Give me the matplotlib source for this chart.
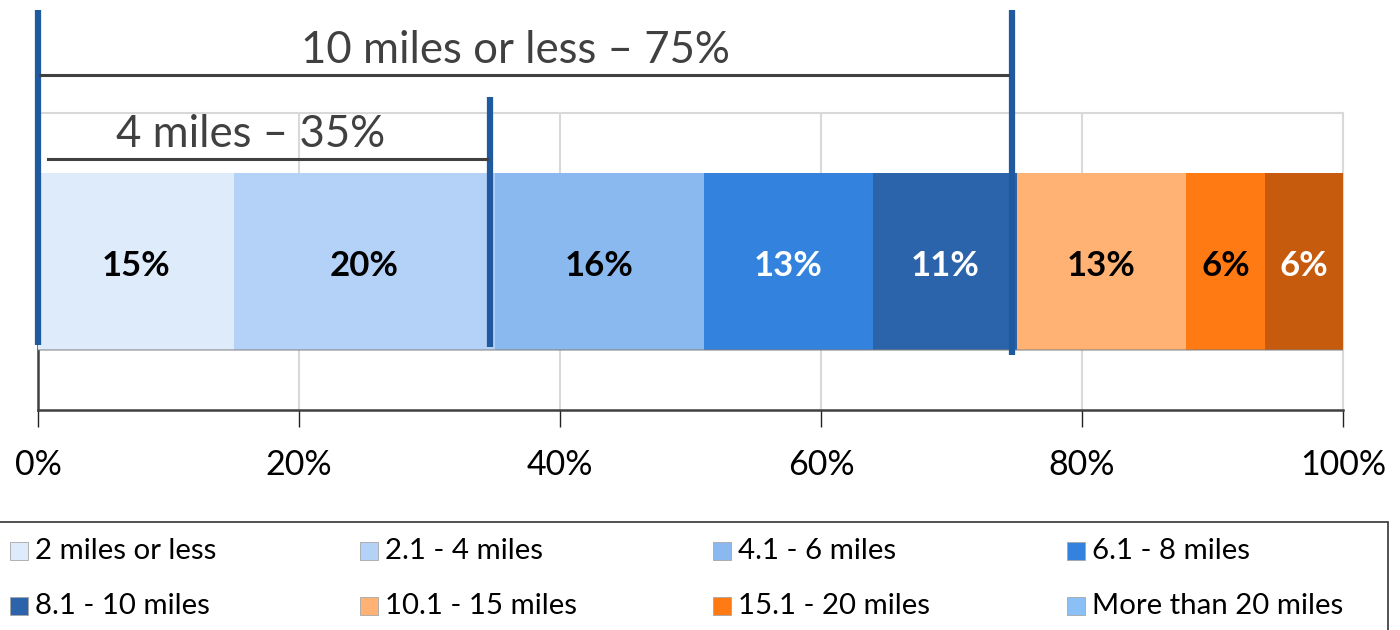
import matplotlib
matplotlib.use("Agg")
import matplotlib.pyplot as plt
from matplotlib.patches import Rectangle
import matplotlib.transforms as mtransforms

plt.rcParams['font.family'] = ['Lato', 'DejaVu Sans']

categories = ["2 miles or less", "2.1 - 4 miles", "4.1 - 6 miles", "6.1 - 8 miles",
              "8.1 - 10 miles", "10.1 - 15 miles", "15.1 - 20 miles", "More than 20 miles"]
shares = [15, 20, 16, 13, 11, 13, 6, 6]
bar_colors = ["#DDEBFB", "#B4D2F7", "#8AB9EF", "#3382DE",
              "#2B64AB", "#FFB273", "#FF7A12", "#C65B0E"]
legend_colors = ["#DDEBFB", "#B4D2F7", "#8AB9EF", "#3382DE",
                 "#2B64AB", "#FFB273", "#FF7A12", "#8AC0F6"]
label_colors = ["black", "black", "black", "white", "white", "black", "black", "white"]
tick_values = [0, 20, 40, 60, 80, 100]
tick_labels = ["0%", "20%", "40%", "60%", "80%", "100%"]

brackets = [("10 miles or less – 75%", 75), ("4 miles – 35%", 35)]

W, H = 1400, 630
fig = plt.figure(figsize=(W / 100, H / 100), dpi=100)
ax = fig.add_axes([38 / W, (H - 410) / H, (1343 - 38) / W, (410 - 113) / H])
ax.set_xlim(0, 100)
ax.set_ylim(0, 1)

# stacked bar
left = 0
for val, col, tc in zip(shares, bar_colors, label_colors):
    ax.barh(0.5, val, left=left, height=0.596, color=col, edgecolor='none', zorder=3)
    ax.text(left + val / 2, 0.485, f"{val}%", ha='center', va='center',
            fontsize=25, fontweight='bold', color=tc, zorder=5)
    left += val
ax.plot([0, 100], [0.5 - 0.298, 0.5 - 0.298], color="#7f7f7f", lw=1.2, alpha=0.6, zorder=4)

# grid and frame
ax.set_xticks(tick_values)
ax.set_xticklabels(tick_labels)
ax.set_yticks([])
ax.xaxis.grid(True, color="#D9D9D9", lw=1.5, zorder=0)
for s in ['top', 'right']:
    ax.spines[s].set_color("#D9D9D9")
    ax.spines[s].set_linewidth(1.5)
for s in ['left', 'bottom']:
    ax.spines[s].set_color("#404040")
    ax.spines[s].set_linewidth(1.8)
ax.tick_params(axis='x', direction='out', length=12, width=1, color="#222222",
               labelsize=24.5, pad=16, labelcolor="black")

# bracket markers
shift = mtransforms.offset_copy(ax.transData, fig=fig, x=-5, y=0, units='dots')
blue = "#1F5AA0"
ax.plot([0, 0], [0.219, 1.347], color=blue, lw=4.5, clip_on=False, zorder=6,
        solid_capstyle='butt')
ax.plot([35, 35], [0.212, 1.054], color=blue, lw=4.5, clip_on=False, zorder=6,
        transform=shift, solid_capstyle='butt')
ax.plot([75, 75], [0.185, 1.347], color=blue, lw=4.5, clip_on=False, zorder=6,
        transform=shift, solid_capstyle='butt')

ax.plot([0.15, 74.3], [1.128, 1.128], color="#404040", lw=2.2, clip_on=False, zorder=6)
ax.text(36.6, 1.212, brackets[0][0], ha='center', va='center', fontsize=31.5,
        color="#404040", clip_on=False)
ax.plot([0.77, 34.4], [0.845, 0.845], color="#404040", lw=2.2, clip_on=False, zorder=6)
ax.text(16.3, 0.928, brackets[1][0], ha='center', va='center', fontsize=31.5,
        color="#404040", clip_on=False, zorder=6)

# legend box
fig.patches.append(Rectangle((-2 / W, -10 / H), 1390 / W, (H - 522 + 10) / H,
                             transform=fig.transFigure, facecolor='white',
                             edgecolor='#333333', lw=1.2, clip_on=False))
col_x = [10, 360, 713, 1067]
row_y = [551, 606]
for i, (name, col) in enumerate(zip(categories, legend_colors)):
    r, c = divmod(i, 4)
    x0, yc = col_x[c], row_y[r]
    fig.patches.append(Rectangle((x0 / W, (H - yc - 9) / H), 18 / W, 18 / H,
                                 transform=fig.transFigure, facecolor=col,
                                 edgecolor='#A6A6A6', lw=0.6))
    fig.text((x0 + 25) / W, (H - yc) / H, name, ha='left', va='center',
             fontsize=21.2, color='black')

fig.savefig("out.png", dpi=100)
